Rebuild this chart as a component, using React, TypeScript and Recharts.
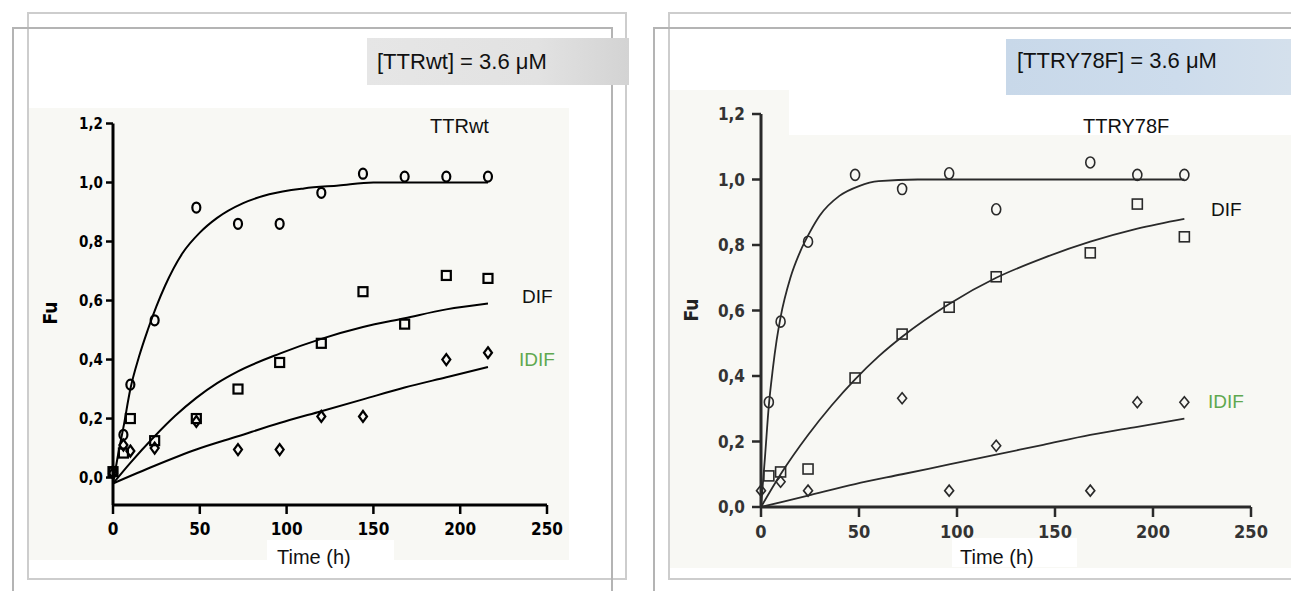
import React from 'react';
import { ComposedChart, Line, Scatter, XAxis, YAxis } from 'recharts';

// ---- left panel: TTRwt ----
const wtFuT = [0, 6, 10, 24, 48, 72, 96, 120, 144, 168, 192, 216];
const wtFu = [0.02, 0.145, 0.315, 0.533, 0.915, 0.86, 0.86, 0.965, 1.03, 1.02, 1.02, 1.02];
const wtDifT = [0, 6, 10, 24, 48, 72, 96, 120, 144, 168, 192, 216];
const wtDif = [0.02, 0.083, 0.2, 0.125, 0.2, 0.3, 0.39, 0.455, 0.63, 0.52, 0.685, 0.675];
const wtIdifT = [0, 6, 10, 24, 48, 72, 96, 120, 144, 192, 216];
const wtIdif = [0.015, 0.11, 0.09, 0.1, 0.19, 0.095, 0.095, 0.207, 0.207, 0.4, 0.423];

// fitted curves
const wtFitFuT = [0, 3, 6, 10, 15, 20, 25, 30, 40, 50, 60, 75, 90, 110, 130, 150, 216];
const wtFitFu = [-0.02, 0.08, 0.17, 0.3, 0.41, 0.5, 0.58, 0.65, 0.76, 0.83, 0.88, 0.93, 0.96, 0.98, 0.99, 1.0, 1.0];
const wtFitDifT = [0, 10, 24, 36, 48, 60, 72, 96, 120, 144, 168, 192, 216];
const wtFitDif = [-0.02, 0.05, 0.14, 0.21, 0.27, 0.32, 0.36, 0.42, 0.47, 0.51, 0.54, 0.57, 0.59];
const wtFitIdifT = [0, 24, 48, 72, 96, 120, 144, 168, 192, 216];
const wtFitIdif = [-0.02, 0.04, 0.095, 0.14, 0.185, 0.225, 0.265, 0.305, 0.34, 0.375];

// ---- right panel: TTRY78F ----
const mutFuT = [4, 10, 24, 48, 72, 96, 120, 168, 192, 216];
const mutFu = [0.32, 0.566, 0.81, 1.014, 0.971, 1.019, 0.909, 1.052, 1.014, 1.014];
const mutDifT = [4, 10, 24, 48, 72, 96, 120, 168, 192, 216];
const mutDif = [0.095, 0.107, 0.116, 0.394, 0.528, 0.61, 0.703, 0.776, 0.925, 0.825];
const mutIdifT = [0, 10, 24, 72, 96, 120, 168, 192, 216];
const mutIdif = [0.05, 0.077, 0.05, 0.332, 0.05, 0.187, 0.05, 0.32, 0.32];

const mutFitFuT = [0, 2, 4, 6, 8, 10, 15, 20, 25, 30, 40, 50, 60, 80, 216];
const mutFitFu = [0, 0.15, 0.31, 0.42, 0.51, 0.58, 0.7, 0.78, 0.84, 0.89, 0.95, 0.98, 0.995, 1.0, 1.0];
const mutFitDifT = [0, 10, 24, 36, 48, 60, 72, 96, 120, 144, 168, 192, 216];
const mutFitDif = [0, 0.1, 0.22, 0.31, 0.39, 0.46, 0.52, 0.62, 0.7, 0.76, 0.81, 0.85, 0.88];
const mutFitIdifT = [0, 24, 48, 72, 96, 120, 144, 168, 192, 216];
const mutFitIdif = [0, 0.035, 0.07, 0.1, 0.13, 0.16, 0.19, 0.22, 0.245, 0.27];

const timeTicks = [0, 50, 100, 150, 200, 250];
const fuTicks = [0, 0.2, 0.4, 0.6, 0.8, 1.0, 1.2];

const zip = (ts: number[], vs: number[]) => ts.map((t, i) => ({ t, v: vs[i] }));
const comma = (v: number) => v.toFixed(1).replace('.', ',');

const narrow = "'Liberation Sans Narrow', 'DejaVu Sans Condensed', 'Liberation Sans', sans-serif";
const sans = "'Liberation Sans', Arial, sans-serif";

const ring = (color: string, w: number, rx: number, ry: number) => (p: any) =>
  <ellipse cx={p.cx} cy={p.cy} rx={rx} ry={ry} fill="none" stroke={color} strokeWidth={w} />;
const box = (color: string, w: number, s: number) => (p: any) =>
  <rect x={p.cx - s / 2} y={p.cy - s / 2} width={s} height={s} fill="none" stroke={color} strokeWidth={w} />;
const diamond = (color: string, w: number, hw: number, hh: number) => (p: any) =>
  <polygon
    points={`${p.cx},${p.cy - hh} ${p.cx + hw},${p.cy} ${p.cx},${p.cy + hh} ${p.cx - hw},${p.cy}`}
    fill="none" stroke={color} strokeWidth={w} />;

const abs = (left: number, top: number, extra: React.CSSProperties = {}): React.CSSProperties => ({
  position: 'absolute', left, top, whiteSpace: 'nowrap', ...extra,
});

export default function App() {
  const lc = '#000';
  const rc = '#2a2a2a';
  return (
    <div style={{ position: 'absolute', left: 0, top: 0, width: 1291, height: 591, overflow: 'hidden', background: '#fff', fontFamily: sans }}>
      {/* plot backgrounds */}
      <div style={abs(28, 108, { width: 541, height: 452, background: '#f8f8f4' })} />
      <div style={abs(267, 540, { width: 127, height: 23, background: '#fff' })} />
      <div style={abs(670, 90, { width: 119, height: 478, background: '#f8f8f4' })} />
      <div style={abs(789, 135, { width: 502, height: 433, background: '#f8f8f4' })} />
      <div style={abs(952, 538, { width: 125, height: 29, background: '#fff' })} />

      {/* frames */}
      <div style={abs(27, 12, { width: 600, height: 568, border: '2px solid #cdcdcd', boxSizing: 'border-box' })} />
      <div style={abs(12, 27, { width: 601, height: 580, border: '2px solid #b4b4b4', boxSizing: 'border-box' })} />
      <div style={abs(668, 12, { width: 640, height: 568, border: '2px solid #cdcdcd', boxSizing: 'border-box' })} />
      <div style={abs(653, 27, { width: 660, height: 580, border: '2px solid #b4b4b4', boxSizing: 'border-box' })} />

      {/* concentration boxes */}
      <div style={abs(367, 38, { width: 262, height: 47, background: 'linear-gradient(90deg, #e6e6e6 0%, #e2e2e2 65%, #d3d3d3 100%)' })} />
      <div style={abs(377, 51, { fontSize: 22, lineHeight: '22px', color: '#111' })}>[TTRwt] = 3.6 μM</div>
      <div style={abs(1006, 39, { width: 285, height: 56, background: 'linear-gradient(90deg, #c8d8e9 0%, #cddcec 60%, #d4e0ec 100%)' })} />
      <div style={abs(1017, 50, { fontSize: 22, lineHeight: '22px', color: '#111' })}>[TTRY78F] = 3.6 μM</div>

      {/* left chart */}
      <div style={abs(0, 0)}>
        <ComposedChart width={640} height={591} margin={{ top: 123.5, left: 73, right: 93, bottom: 46 }}>
          <XAxis type="number" dataKey="t" domain={[0, 250]} ticks={timeTicks} height={40}
            axisLine={{ stroke: lc, strokeWidth: 3 }} tickLine={{ stroke: lc, strokeWidth: 2.5 }}
            tickSize={9} tickMargin={9}
            tick={{ fontFamily: narrow, fontSize: 17, fontWeight: 700, fill: lc }} />
          <YAxis type="number" dataKey="v" domain={[-0.093, 1.2]} ticks={fuTicks} width={40} allowDataOverflow
            axisLine={{ stroke: lc, strokeWidth: 3 }} tickLine={{ stroke: lc, strokeWidth: 2.5 }}
            tickSize={7} tickMargin={3} tickFormatter={comma}
            tick={{ fontFamily: narrow, fontSize: 15, fontWeight: 700, fill: lc }} />
          <Line data={zip(wtFitFuT, wtFitFu)} dataKey="v" type="monotone" stroke={lc} strokeWidth={2} dot={false} isAnimationActive={false} />
          <Line data={zip(wtFitDifT, wtFitDif)} dataKey="v" type="monotone" stroke={lc} strokeWidth={2} dot={false} isAnimationActive={false} />
          <Line data={zip(wtFitIdifT, wtFitIdif)} dataKey="v" type="monotone" stroke={lc} strokeWidth={2} dot={false} isAnimationActive={false} />
          <Scatter data={zip(wtFuT, wtFu)} dataKey="v" shape={ring(lc, 2.2, 4, 5)} isAnimationActive={false} />
          <Scatter data={zip(wtDifT, wtDif)} dataKey="v" shape={box(lc, 2.2, 9)} isAnimationActive={false} />
          <Scatter data={zip(wtIdifT, wtIdif)} dataKey="v" shape={diamond(lc, 2.2, 4, 5.5)} isAnimationActive={false} />
        </ComposedChart>
      </div>

      {/* right chart */}
      <div style={abs(645, 0)}>
        <ComposedChart width={646} height={591} margin={{ top: 114, left: 76, right: 40, bottom: 44 }}>
          <XAxis type="number" dataKey="t" domain={[0, 250]} ticks={timeTicks} height={40}
            axisLine={{ stroke: rc, strokeWidth: 3 }} tickLine={{ stroke: rc, strokeWidth: 2.5 }}
            tickSize={10} tickMargin={8}
            tick={{ fontFamily: narrow, fontSize: 18, fontWeight: 700, fill: '#333' }} />
          <YAxis type="number" dataKey="v" domain={[0, 1.2]} ticks={fuTicks} width={40} allowDataOverflow
            axisLine={{ stroke: rc, strokeWidth: 3 }} tickLine={{ stroke: rc, strokeWidth: 2.5 }}
            tickSize={9} tickMargin={7} tickFormatter={comma}
            tick={{ fontFamily: narrow, fontSize: 17, fontWeight: 700, fill: '#333' }} />
          <Line data={zip(mutFitFuT, mutFitFu)} dataKey="v" type="monotone" stroke={rc} strokeWidth={1.8} dot={false} isAnimationActive={false} />
          <Line data={zip(mutFitDifT, mutFitDif)} dataKey="v" type="monotone" stroke={rc} strokeWidth={1.8} dot={false} isAnimationActive={false} />
          <Line data={zip(mutFitIdifT, mutFitIdif)} dataKey="v" type="monotone" stroke={rc} strokeWidth={1.8} dot={false} isAnimationActive={false} />
          <Scatter data={zip(mutFuT, mutFu)} dataKey="v" shape={ring(rc, 1.6, 4.5, 5.5)} isAnimationActive={false} />
          <Scatter data={zip(mutDifT, mutDif)} dataKey="v" shape={box(rc, 1.6, 10)} isAnimationActive={false} />
          <Scatter data={zip(mutIdifT, mutIdif)} dataKey="v" shape={diamond(rc, 1.6, 4.5, 5.5)} isAnimationActive={false} />
        </ComposedChart>
      </div>

      {/* annotations */}
      <div style={abs(430, 116, { fontSize: 20, lineHeight: '20px', color: '#111' })}>TTRwt</div>
      <div style={abs(522, 287, { fontSize: 19, lineHeight: '19px', color: '#111' })}>DIF</div>
      <div style={abs(519, 350, { fontSize: 19, lineHeight: '19px', color: '#5fa84f' })}>IDIF</div>
      <div style={abs(277, 547, { fontSize: 20, lineHeight: '20px', color: '#111' })}>Time (h)</div>
      <div style={abs(50, 313, { fontFamily: narrow, fontSize: 19, fontWeight: 700, lineHeight: '19px', transform: 'translate(-50%, -50%) rotate(-90deg)' })}>Fu</div>

      <div style={abs(1083, 116, { fontSize: 20, lineHeight: '20px', color: '#111' })}>TTRY78F</div>
      <div style={abs(1211, 200, { fontSize: 19, lineHeight: '19px', color: '#111' })}>DIF</div>
      <div style={abs(1208, 392, { fontSize: 19, lineHeight: '19px', color: '#5fa84f' })}>IDIF</div>
      <div style={abs(960, 547, { fontSize: 20, lineHeight: '20px', color: '#111' })}>Time (h)</div>
      <div style={abs(691, 310, { fontFamily: narrow, fontSize: 19, fontWeight: 700, lineHeight: '19px', color: '#222', transform: 'translate(-50%, -50%) rotate(-90deg)' })}>Fu</div>
    </div>
  );
}
